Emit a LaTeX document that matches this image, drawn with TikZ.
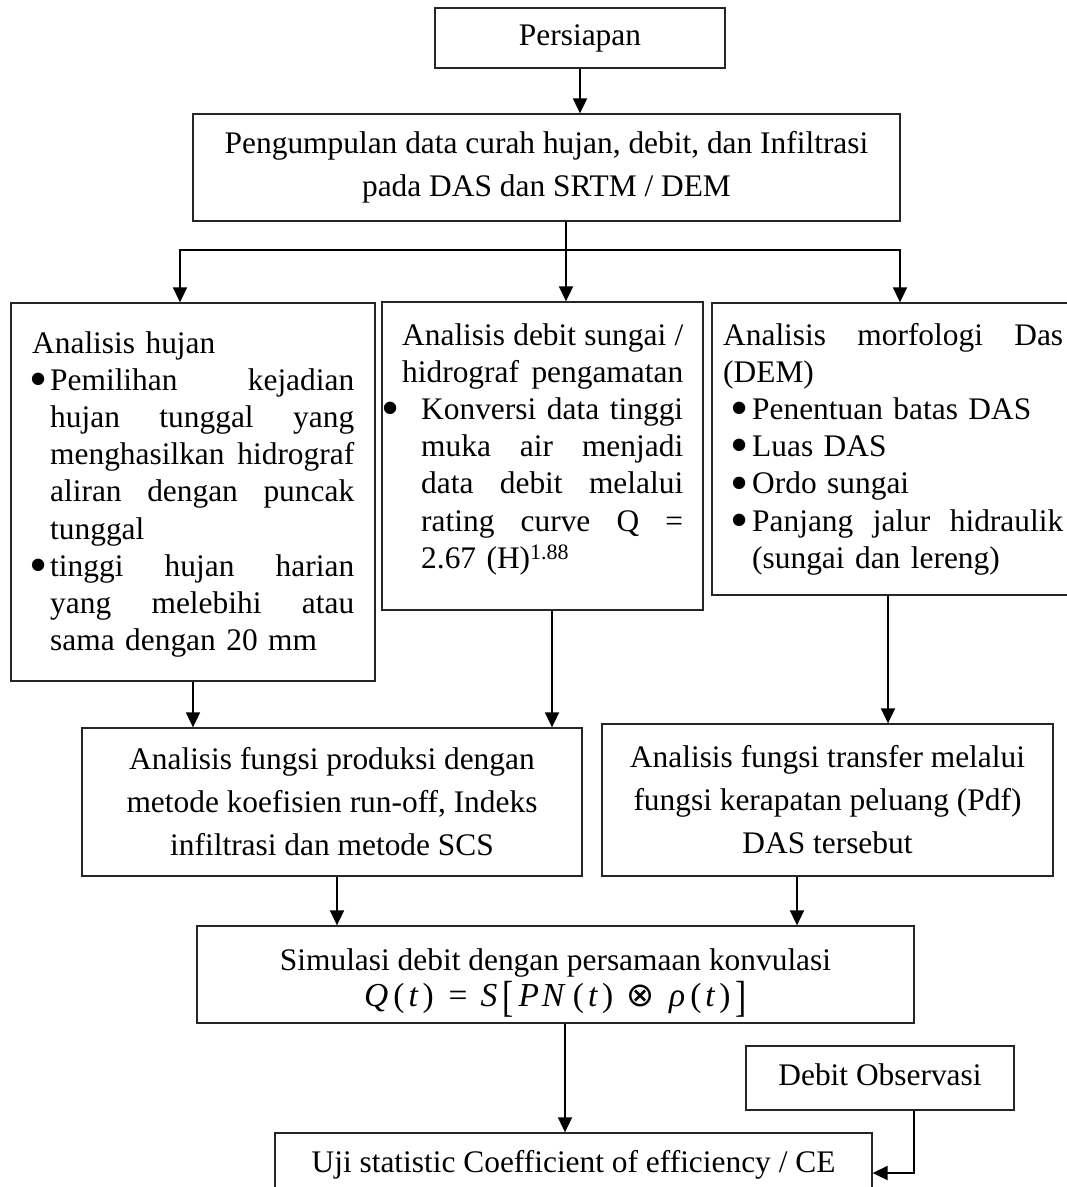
\documentclass[tikz,border=0pt]{standalone}
\usepackage{fontspec}
\setmainfont{Liberation Serif}[Ligatures={TeX,NoCommon}]
\newfontfamily\symfont{DejaVu Sans}
\usetikzlibrary{arrows.meta}

% a line stretched to a fixed width (justified line): spaces share the slack equally
\newcommand\jline[2]{\makebox[#1][s]{\spaceskip=0.25em plus 1fill\relax #2}}
% bullet dot, centred on the current point
\newcommand\bdot{\makebox[0pt]{\raisebox{-0.2em}{\scalebox{1.65}{\textbullet}}}}
% slot of width #1 holding a bullet whose centre sits #2 from the slot's left edge
\newcommand\bslot[2]{\makebox[#1][l]{\hspace*{#2}\bdot}}
\newcommand\hang[1]{\hspace*{#1}}
% tall square brackets for the convolution formula
\newcommand\tallbr[1]{\raisebox{-0.14em}{\scalebox{1}[1.3]{#1}}}
\newcommand\convformula{{\fontsize{33.5}{40}\selectfont
  \textit{Q}\kern5pt(\kern4pt\textit{t}\kern4pt)\kern15pt=\kern13pt\textit{S}\kern5pt\tallbr{[}\kern5pt%
  \textit{P}\kern3pt\textit{N}\kern7pt(\kern4pt\textit{t}\kern4pt)\kern13pt{\symfont ⊗}\kern15pt%
  \textit{ρ}\kern5pt(\kern4pt\textit{t}\kern4pt)\kern5pt\tallbr{]}}}

\begin{document}
\begin{tikzpicture}[x=1pt,y=-1pt,
  box/.style={draw=black!85, line width=1.3pt, inner sep=0pt},
  ctext/.style={align=center, font=\fontsize{31.4}{43}\selectfont},
  ltext/.style={align=left, inner sep=0pt, anchor=base west, font=\fontsize{31.4}{37.2}\selectfont},
  arr/.style={line width=1.8pt, -{Triangle[length=15pt,width=14pt]}}]
\useasboundingbox (0,0) rectangle (1067,1187);

% preparation and data collection
\node[box, ctext, minimum width=290pt, minimum height=60pt] (pers) at (580,38) {Persiapan};
\node[box, ctext, minimum width=707pt, minimum height=107pt] (peng) at (546.5,167.5)
  {Pengumpulan data curah hujan, debit, dan Infiltrasi\\pada DAS dan SRTM / DEM};

% the three analysis boxes
\node[box, minimum width=364pt, minimum height=378pt] (hujan) at (193,492) {};
\node[box, minimum width=321pt, minimum height=308pt] (debit) at (542.5,456) {};
\node[box, minimum width=362pt, minimum height=292pt] (morf) at (893,449) {};

\node[ltext, text width=322pt] (hujanTxt) at (32,353) {%
Analisis hujan\\
\bslot{18pt}{6pt}\jline{304pt}{Pemilihan kejadian}\\
\hang{18pt}\jline{304pt}{hujan tunggal yang}\\
\hang{18pt}\jline{304pt}{menghasilkan hidrograf}\\
\hang{18pt}\jline{304pt}{aliran dengan puncak}\\
\hang{18pt}tunggal\\
\bslot{18pt}{6pt}\jline{304pt}{tinggi hujan harian}\\
\hang{18pt}\jline{304pt}{yang melebihi atau}\\
\hang{18pt}sama dengan 20 mm};

\node[ltext, text width=281pt] (debitTxt) at (402,345) {%
\jline{281pt}{Analisis debit sungai /}\\
\jline{281pt}{hidrograf pengamatan}\\
\bslot{19pt}{-12pt}\jline{262pt}{Konversi data tinggi}\\
\hang{19pt}\jline{262pt}{muka air menjadi}\\
\hang{19pt}\jline{262pt}{data debit melalui}\\
\hang{19pt}\jline{262pt}{rating curve Q =}\\
\hang{19pt}2.67 (H)\textsuperscript{1.88}};

\node[ltext, text width=340pt] (morfTxt) at (723,345) {%
\jline{340pt}{Analisis morfologi Das}\\
(DEM)\\
\bslot{29pt}{16pt}Penentuan batas DAS\\
\bslot{29pt}{16pt}Luas DAS\\
\bslot{29pt}{16pt}Ordo sungai\\
\bslot{29pt}{16pt}\jline{311pt}{Panjang jalur hidraulik}\\
\hang{29pt}(sungai dan lereng)};

% production and transfer functions
\node[box, ctext, minimum width=500pt, minimum height=148pt] (prod) at (332,802)
  {Analisis fungsi produksi dengan\\metode koefisien run-off, Indeks\\infiltrasi dan metode SCS};
\node[box, ctext, minimum width=451pt, minimum height=152pt] (trans) at (827.5,800)
  {Analisis fungsi transfer melalui\\fungsi kerapatan peluang (Pdf)\\DAS tersebut};

% simulation, observation and test
\node[box, ctext, minimum width=717pt, minimum height=97pt] (sim) at (555.5,974.5)
  {\rule{0pt}{39pt}Simulasi debit dengan persamaan konvulasi\\[-7pt]\convformula};
\node[box, ctext, minimum width=268pt, minimum height=64pt, text depth=7pt] (obs) at (880,1078) {Debit Observasi};
\node[box, ctext, minimum width=597pt, minimum height=64pt] (uji) at (573.5,1165)
  {Uji statistic Coefficient of efficiency / CE};

% connectors
\draw[arr] (pers.south) -- (pers.south |- peng.north);
\coordinate (fork) at (566,250);
\coordinate (forkL) at (180,250);
\coordinate (forkR) at (900,250);
\draw[arr] (peng.south -| fork) -- (fork |- debit.north);
\draw[arr] (fork) -- (forkL) -- (forkL |- hujan.north);
\draw[arr] (fork) -- (forkR) -- (forkR |- morf.north);

\draw[arr] (hujan.south) -- (hujan.south |- prod.north);
\draw[arr] ([xshift=9.5pt]debit.south) -- ([xshift=9.5pt]debit.south |- prod.north);
\draw[arr] ([xshift=-5pt]morf.south) -- ([xshift=-5pt]morf.south |- trans.north);
\draw[arr] ([xshift=5pt]prod.south) -- ([xshift=5pt]prod.south |- sim.north);
\draw[arr] ([xshift=-30.5pt]trans.south) -- ([xshift=-30.5pt]trans.south |- sim.north);
\draw[arr] ([xshift=9.5pt]sim.south) -- ([xshift=9.5pt]sim.south |- uji.north);
\draw[arr] ([xshift=34pt]obs.south) |- ([yshift=-8pt]uji.east);
\end{tikzpicture}
\end{document}
